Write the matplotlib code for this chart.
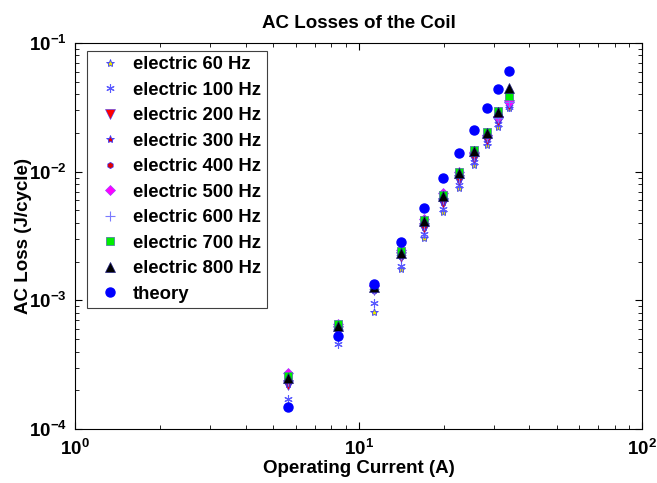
import numpy as np
import matplotlib
matplotlib.use("Agg")
import matplotlib.pyplot as plt

plt.rcParams['font.family'] = ['Liberation Sans', 'DejaVu Sans']
plt.rcParams['font.weight'] = 'bold'
plt.rcParams['mathtext.fontset'] = 'custom'
plt.rcParams['mathtext.rm'] = 'Liberation Sans:bold'
plt.rcParams['mathtext.it'] = 'Liberation Sans:bold'
plt.rcParams['mathtext.bf'] = 'Liberation Sans:bold'
plt.rcParams['axes.unicode_minus'] = False

# operating current (A)
current = [5.66, 8.49, 11.3, 14.1, 17.0, 19.8, 22.6, 25.5, 28.3, 31.1, 33.9]

# AC loss (J/cycle)
e60 = [np.nan, np.nan, 8.1e-4, 1.75e-3, 3.07e-3, 4.86e-3, 7.5e-3, 1.13e-2, 1.61e-2, 2.22e-2, 3.11e-2]
e100 = [1.72e-4, 4.6e-4, 9.6e-4, 1.85e-3, 3.25e-3, 5.1e-3, 7.9e-3, 1.18e-2, 1.68e-2, 2.35e-2, 3.2e-2]
e200 = [2.2e-4, 5.8e-4, 1.2e-3, 2.16e-3, 3.63e-3, 5.7e-3, 8.6e-3, 1.27e-2, 1.75e-2, 2.48e-2, 3.3e-2]
e300 = [2.25e-4, 5.9e-4, 1.21e-3, 2.2e-3, 3.7e-3, 5.8e-3, 8.8e-3, 1.3e-2, 1.8e-2, 2.5e-2, 3.35e-2]
e400 = [2.3e-4, 6.0e-4, 1.22e-3, 2.25e-3, 3.8e-3, 6.0e-3, 9.0e-3, 1.33e-2, 1.83e-2, 2.55e-2, 3.4e-2]
e500 = [2.7e-4, 6.6e-4, 1.3e-3, 2.45e-3, 4.3e-3, 6.8e-3, 1.0e-2, 1.42e-2, 1.92e-2, 2.65e-2, 3.5e-2]
e600 = [2.35e-4, 6.0e-4, 1.23e-3, 2.25e-3, 3.85e-3, 6.1e-3, 9.0e-3, 1.33e-2, 1.85e-2, 2.6e-2, 3.45e-2]
e700 = [2.6e-4, 6.5e-4, 1.28e-3, 2.4e-3, 4.2e-3, 6.6e-3, 9.9e-3, 1.47e-2, 2.02e-2, 2.95e-2, 3.9e-2]
e800 = [2.5e-4, 6.3e-4, 1.27e-3, 2.35e-3, 4.1e-3, 6.5e-3, 9.7e-3, 1.45e-2, 2.0e-2, 2.9e-2, 4.5e-2]
theory = [1.48e-4, 5.3e-4, 1.34e-3, 2.83e-3, 5.2e-3, 8.9e-3, 1.39e-2, 2.1e-2, 3.1e-2, 4.4e-2, 6.1e-2]

labels = ['electric 60 Hz', 'electric 100 Hz', 'electric 200 Hz', 'electric 300 Hz',
          'electric 400 Hz', 'electric 500 Hz', 'electric 600 Hz', 'electric 700 Hz',
          'electric 800 Hz', 'theory']

fig = plt.figure(figsize=(6.57, 4.83), dpi=100)
ax = fig.add_axes([0.1142, 0.1118, 0.8630, 0.7992])

edge = '#3a3aff'
ax.plot(current, e60, linestyle='none', marker='*', ms=6, mfc='#e8e800', mec=edge, mew=0.6, label=labels[0])
ax.plot(current, e100, linestyle='none', marker=(6, 2, 0), ms=6, mec='#5a5aff', mew=0.8, label=labels[1])
ax.plot(current, e200, linestyle='none', marker='v', ms=7, mfc='#ff0000', mec=edge, mew=0.4, label=labels[2])
ax.plot(current, e300, linestyle='none', marker='*', ms=6, mfc='#e00000', mec=edge, mew=0.6, label=labels[3])
ax.plot(current, e400, linestyle='none', marker='h', ms=4.5, mfc='#e00000', mec=edge, mew=0.5, label=labels[4])
ax.plot(current, e500, linestyle='none', marker='D', ms=5, mfc='#ff00ff', mec='#a040ff', mew=0.5, label=labels[5])
ax.plot(current, e600, linestyle='none', marker='+', ms=7, mec='#7a7aff', mew=0.8, label=labels[6])
ax.plot(current, e700, linestyle='none', marker='s', ms=6, mfc='#00ee00', mec='#5080a0', mew=0.6, label=labels[7])
ax.plot(current, e800, linestyle='none', marker='^', ms=7, mfc='#000000', mec='#202080', mew=0.5, label=labels[8])
ax.plot(current, theory, linestyle='none', marker='o', ms=6.5, mfc='#0000ff', mec='#0000ff', label=labels[9])

ax.set_xscale('log')
ax.set_yscale('log')
ax.set_xlim(1, 100)
ax.set_ylim(1e-4, 1e-1)

ax.tick_params(which='both', direction='in', top=True, right=True, labelsize=13.5)
ax.tick_params(which='major', length=5, width=0.8)
ax.tick_params(which='minor', length=3, width=0.6)
ax.tick_params(axis='x', which='major', pad=7)
ax.tick_params(axis='y', which='major', pad=6)
for s in ax.spines.values():
    s.set_linewidth(0.8)

ax.set_title('AC Losses of the Coil', fontsize=13.5, fontweight='bold', pad=10.5)
ax.set_xlabel('Operating Current (A)', fontsize=13.5, fontweight='bold', labelpad=1)
ax.set_ylabel('AC Loss (J/cycle)', fontsize=13.5, fontweight='bold')
ax.yaxis.set_label_coords(-0.0764, 0.5)

leg = ax.legend(loc='upper left', bbox_to_anchor=(0.0206, 0.980), borderaxespad=0,
                numpoints=1, fontsize=13.3, fancybox=False, framealpha=1,
                edgecolor='#404040', handlelength=1.9, handletextpad=0.3,
                labelspacing=0.46, borderpad=0.3)
leg.get_frame().set_linewidth(0.8)

fig.savefig('out.png', dpi=100)
